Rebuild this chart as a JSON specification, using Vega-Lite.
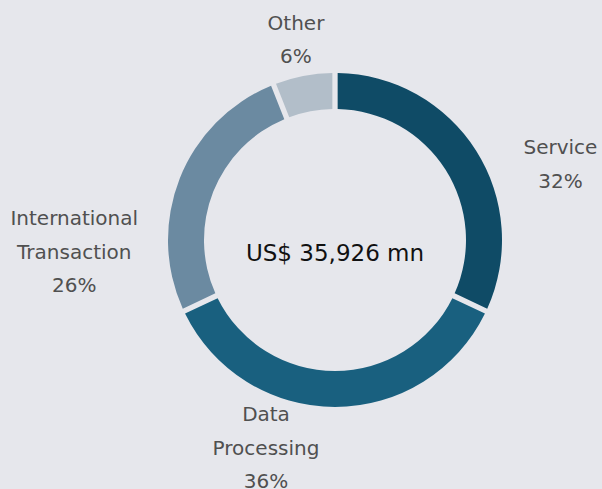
{
  "$schema": "https://vega.github.io/schema/vega-lite/v6.json",
  "width": 534,
  "height": 480,
  "autosize": "none",
  "padding": {"left": 68, "top": 0, "right": 0, "bottom": 9},
  "background": "#e6e7ec",
  "config": {"view": {"stroke": null}},
  "datasets": {
    "segments": [
      {"category": "Service", "share": 32, "rank": 1, "label": "Service\n32%"},
      {"category": "Data Processing", "share": 36, "rank": 2, "label": "Data\nProcessing\n36%"},
      {"category": "International Transaction", "share": 26, "rank": 3, "label": "International\nTransaction\n26%"},
      {"category": "Other", "share": 6, "rank": 4, "label": "Other\n6%"}
    ],
    "total": [{"text": "US$ 35,926 mn"}]
  },
  "layer": [
    {
      "data": {"name": "segments"},
      "mark": {"type": "arc", "outerRadius": 167, "innerRadius": 131, "padAngle": 0.025},
      "encoding": {
        "theta": {"field": "share", "type": "quantitative", "stack": true},
        "order": {"field": "rank", "type": "quantitative"},
        "color": {
          "field": "category",
          "type": "nominal",
          "scale": {
            "domain": ["Service", "Data Processing", "International Transaction", "Other"],
            "range": ["#0f4b66", "#19607f", "#6b8aa1", "#b2bec9"]
          },
          "legend": null
        }
      }
    },
    {
      "data": {"name": "segments"},
      "mark": {"type": "text", "radius": 203, "dx": -1, "dy": -17, "font": "DejaVu Sans", "fontSize": 20, "color": "#505050", "lineBreak": "\n", "lineHeight": 33.5, "align": "center", "baseline": "middle"},
      "encoding": {
        "theta": {"field": "share", "type": "quantitative", "stack": true},
        "order": {"field": "rank", "type": "quantitative"},
        "text": {"condition": {"test": "datum.category === 'Other'", "field": "label"}, "value": ""}
      }
    },
    {
      "data": {"name": "segments"},
      "mark": {"type": "text", "radius": 203, "dx": 54, "dy": 17, "font": "DejaVu Sans", "fontSize": 20, "color": "#505050", "lineBreak": "\n", "lineHeight": 33.5, "align": "center", "baseline": "middle"},
      "encoding": {
        "theta": {"field": "share", "type": "quantitative", "stack": true},
        "order": {"field": "rank", "type": "quantitative"},
        "text": {"condition": {"test": "datum.category === 'Service'", "field": "label"}, "value": ""}
      }
    },
    {
      "data": {"name": "segments"},
      "mark": {"type": "text", "radius": 203, "dx": -72, "dy": 54, "font": "DejaVu Sans", "fontSize": 20, "color": "#505050", "lineBreak": "\n", "lineHeight": 33.5, "align": "center", "baseline": "middle"},
      "encoding": {
        "theta": {"field": "share", "type": "quantitative", "stack": true},
        "order": {"field": "rank", "type": "quantitative"},
        "text": {"condition": {"test": "datum.category === 'International Transaction'", "field": "label"}, "value": ""}
      }
    },
    {
      "data": {"name": "segments"},
      "mark": {"type": "text", "radius": 203, "dx": -69, "dy": -28, "font": "DejaVu Sans", "fontSize": 20, "color": "#505050", "lineBreak": "\n", "lineHeight": 33.5, "align": "center", "baseline": "middle"},
      "encoding": {
        "theta": {"field": "share", "type": "quantitative", "stack": true},
        "order": {"field": "rank", "type": "quantitative"},
        "text": {"condition": {"test": "datum.category === 'Data Processing'", "field": "label"}, "value": ""}
      }
    },
    {
      "data": {"name": "total"},
      "mark": {"type": "text", "font": "DejaVu Sans", "fontSize": 23, "color": "#111111", "dy": 14, "align": "center", "baseline": "middle"},
      "encoding": {"text": {"field": "text", "type": "nominal"}}
    }
  ]
}
